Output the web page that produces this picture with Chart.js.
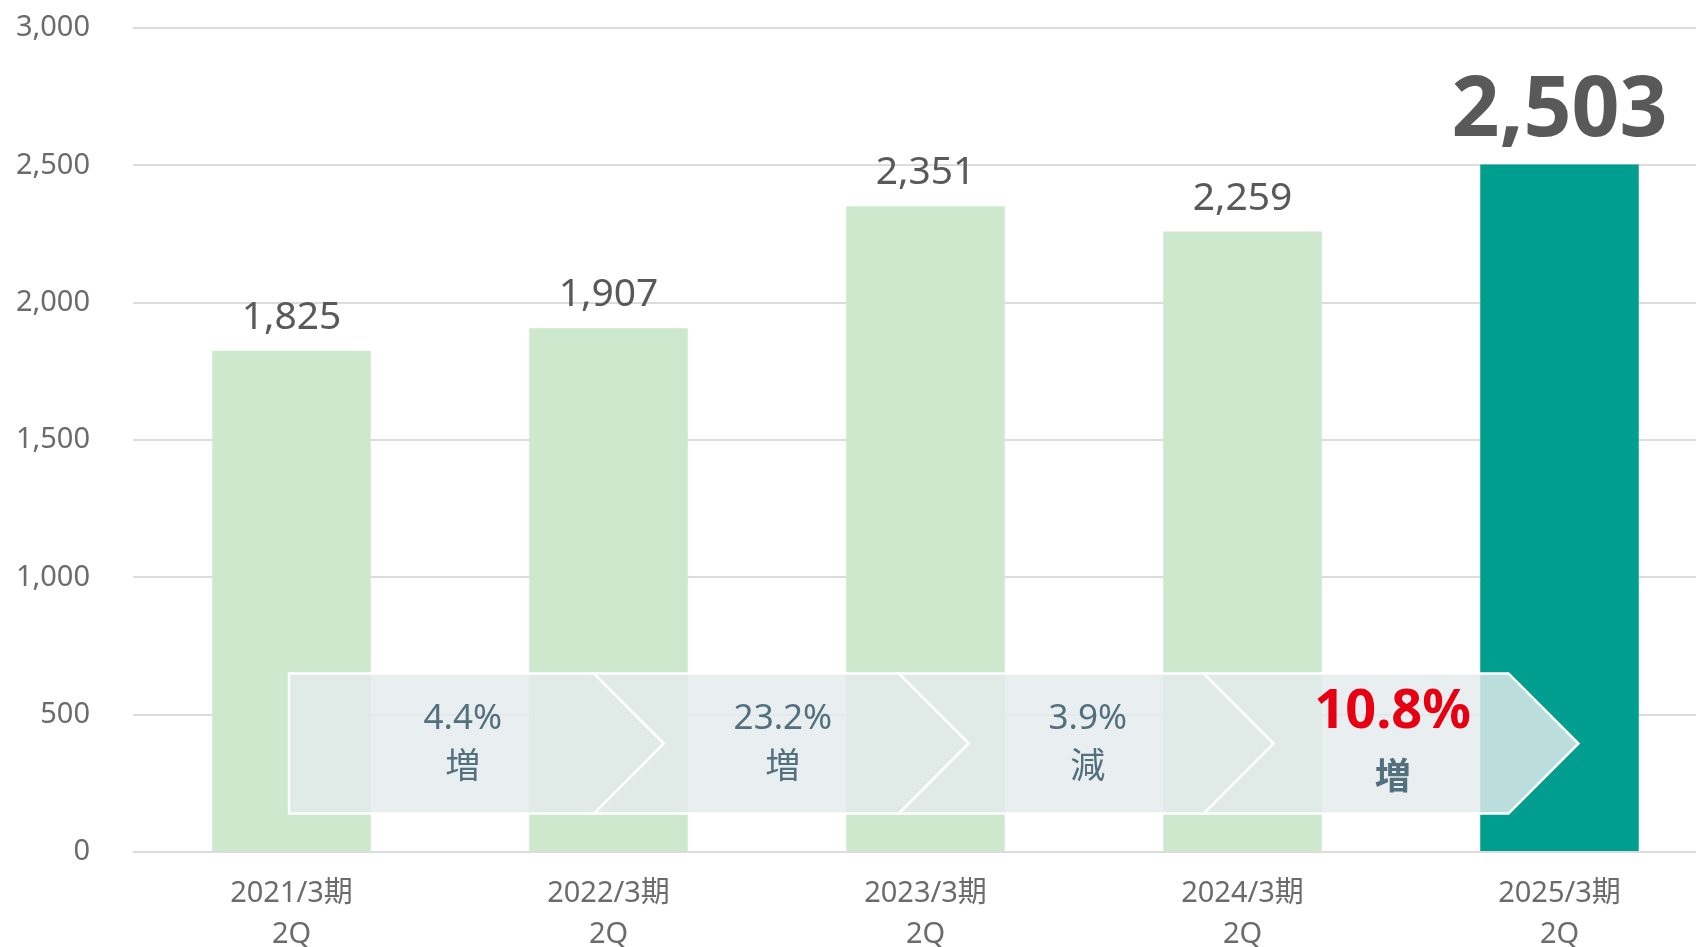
<!DOCTYPE html>
<html lang="ja">
<head>
<meta charset="utf-8">
<title>2Q 推移</title>
<script src="https://cdn.jsdelivr.net/npm/chart.js@4.4.1/dist/chart.umd.min.js"></script>
<style>
  html, body { margin: 0; padding: 0; background: #fff; overflow: hidden; }
  #wrap { width: 1720px; height: 947px; }
</style>
</head>
<body>
<div id="wrap"><canvas id="myChart" width="1720" height="947"></canvas></div>
<script>
// DADES
const etiquetes = [["2021/3期", "2Q"], ["2022/3期", "2Q"], ["2023/3期", "2Q"], ["2024/3期", "2Q"], ["2025/3期", "2Q"]];
const valors = [1825, 1907, 2351, 2259, 2503];
const variacions = ["4.4%", "23.2%", "3.9%", "10.8%"];
const sentit = ["増", "増", "減", "増"];
const ticksY = [0, 500, 1000, 1500, 2000, 2500, 3000];

const FONT = "'Noto Sans', 'Noto Sans CJK JP', sans-serif";
const colors = valors.map((v, i) => (i === valors.length - 1 ? "#009e8e" : "#cde8cc"));

// etiquetes de valor damunt de cada barra
const etiquetesValor = {
  id: "etiquetesValor",
  afterDatasetsDraw(chart) {
    const ctx = chart.ctx;
    const meta = chart.getDatasetMeta(0);
    ctx.save();
    ctx.textAlign = "center";
    ctx.textBaseline = "alphabetic";
    meta.data.forEach((bar, i) => {
      const last = i === meta.data.length - 1;
      ctx.fillStyle = "#595959";
      ctx.font = last ? "bold 84px " + FONT : "39px " + FONT;
      ctx.fillText(valors[i].toLocaleString("en-US"), bar.x, bar.y - (last ? 29 : 22));
    });
    ctx.restore();
  }
};

// fletxes de variació
const fletxes = {
  id: "fletxes",
  afterDatasetsDraw(chart) {
    const ctx = chart.ctx;
    const x = chart.scales.x, y = chart.scales.y;
    const pas = x.getPixelForValue(1) - x.getPixelForValue(0);
    const top = y.getPixelForValue(650);
    const bottom = y.getPixelForValue(140);
    const mid = (top + bottom) / 2;
    const d = (bottom - top) / 2;
    const L = x.getPixelForValue(0) - 0.008 * pas;
    const fi = x.getPixelForValue(4) + 0.06 * pas;
    const s = (fi - d - L) / 4;
    ctx.save();
    for (let k = 0; k < 4; k++) {
      const corner = L + (k + 1) * s;
      const start = k === 0 ? L : L + k * s;
      ctx.beginPath();
      ctx.moveTo(start, top);
      ctx.lineTo(corner, top);
      ctx.lineTo(corner + d, mid);
      ctx.lineTo(corner, bottom);
      ctx.lineTo(start, bottom);
      if (k > 0) ctx.lineTo(start + d, mid);
      ctx.closePath();
      ctx.fillStyle = "rgba(228, 234, 237, 0.82)";
      ctx.fill();
      ctx.strokeStyle = "#ffffff";
      ctx.lineWidth = 2.5;
      ctx.stroke();
    }
    ctx.textAlign = "center";
    ctx.textBaseline = "middle";
    for (let k = 0; k < 4; k++) {
      const corner = L + (k + 1) * s;
      const tx = k === 0 ? corner - 0.43 * s : corner - 0.38 * s;
      const destacat = k === 3;
      if (destacat) {
        ctx.fillStyle = "#e60012";
        ctx.font = "bold 54px " + FONT;
        ctx.fillText(variacions[k], tx, mid - 31);
        ctx.fillStyle = "#52707e";
        ctx.font = "bold 36px " + FONT;
        ctx.fillText(sentit[k], tx, mid + 35);
      } else {
        ctx.fillStyle = "#52707e";
        ctx.font = "35px " + FONT;
        ctx.fillText(variacions[k], tx, mid - 24);
        ctx.fillText(sentit[k], tx, mid + 25);
      }
    }
    ctx.restore();
  }
};

const config = {
  type: "bar",
  data: {
    labels: etiquetes,
    datasets: [
      {
        data: valors,
        backgroundColor: colors,
        borderWidth: 0,
        barPercentage: 0.5,
        categoryPercentage: 1.0
      }
    ]
  },
  options: {
    responsive: false,
    animation: false,
    devicePixelRatio: 1,
    layout: { padding: { top: 28, right: 2, bottom: 0, left: 0 } },
    plugins: {
      legend: { display: false },
      tooltip: { enabled: false }
    },
    scales: {
      x: {
        grid: { display: false },
        border: { display: false },
        ticks: {
          color: "#6b6b6b",
          font: { family: FONT, size: 29, lineHeight: 1.42 },
          padding: 13,
          maxRotation: 0
        },
        afterFit(scale) { scale.height = 95; }
      },
      y: {
        min: 0,
        max: 3000,
        afterBuildTicks(scale) { scale.ticks = ticksY.map((v) => ({ value: v })); },
        grid: { color: "#dcdcdc", lineWidth: 2, drawTicks: false },
        border: { display: false },
        ticks: {
          color: "#6b6b6b",
          font: { family: FONT, size: 29 },
          padding: 43,
          callback: (v) => v.toLocaleString("en-US")
        },
        afterFit(scale) {
          scale.width = 133;
          scale.paddingTop = 17;
          scale.paddingBottom = 17;
        }
      }
    }
  },
  plugins: [etiquetesValor, fletxes]
};

const myChart = new Chart(document.getElementById("myChart"), config);
</script>
</body>
</html>
